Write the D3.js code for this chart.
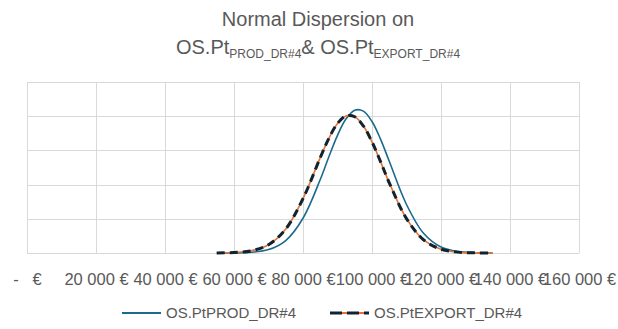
<!DOCTYPE html>
<html>
<head>
<meta charset="utf-8">
<script src="https://cdn.jsdelivr.net/npm/d3@7"></script>
<style>
  html, body { margin: 0; padding: 0; background: #fff; }
  #chart { width: 618px; height: 329px; }
  text { font-family: "Liberation Sans", Arial, sans-serif; fill: #595959; }
</style>
</head>
<body>
<div id="chart"></div>
<script>
// values (x in €, y = density)
const xValues = [55000, 60000, 65000, 70000, 75000, 80000, 85000, 87500, 90000, 92500,
  95000, 97500, 100000, 102500, 105000, 110000, 115000, 120000, 125000, 130000, 135000];
const prodValues = [0.0000000038, 0.000000032, 0.000000205, 0.00000099, 0.00000365, 0.00001017,
  0.00002148, 0.00002814, 0.00003441, 0.00003924, 0.00004177, 0.00004148, 0.00003844, 0.00003323,
  0.00002681, 0.00001418, 0.00000568, 0.00000173, 0.000000398, 0.000000069, 0.0000000092];
const exportValues = [0.000000021, 0.000000131, 0.000000639, 0.00000241, 0.00000703, 0.0000159,
  0.00002788, 0.00003354, 0.00003786, 0.00004009, 0.00003984, 0.00003714, 0.00003249, 0.00002666,
  0.00002053, 0.00001005, 0.00000381, 0.00000112, 0.000000255, 0.000000045, 0.0000000062];
const xTicks = [0, 20000, 40000, 60000, 80000, 100000, 120000, 140000, 160000];
const yTicks = [0, 0.00001, 0.00002, 0.00003, 0.00004, 0.00005];
const seriesNames = ['OS.PtPROD_DR#4', 'OS.PtEXPORT_DR#4'];

const width = 618, height = 329;
const margin = { top: 82, right: 39, bottom: 76, left: 27 };

const svg = d3.select('#chart')
  .append('svg')
  .attr('width', width)
  .attr('height', height);

const x = d3.scaleLinear().domain([0, 160000]).range([margin.left, width - margin.right]);
const y = d3.scaleLinear().domain([0, 0.00005]).range([height - margin.bottom, margin.top]);

// grid
const grid = svg.append('g').attr('stroke', '#d9d9d9').attr('stroke-width', 1);
grid.selectAll('.v').data(xTicks).join('line')
  .attr('x1', d => Math.round(x(d)) + 0.5).attr('x2', d => Math.round(x(d)) + 0.5)
  .attr('y1', y(0.00005)).attr('y2', y(0));
grid.selectAll('.h').data(yTicks).join('line')
  .attr('x1', x(0)).attr('x2', x(160000))
  .attr('y1', d => Math.round(y(d)) + 0.5).attr('y2', d => Math.round(y(d)) + 0.5);

// x axis labels
const fmt = d => d === 0 ? '-\u00a0\u00a0\u00a0€' : d3.format(',')(d).replace(/,/g, '\u00a0') + '\u00a0€';
const xAxis = d3.axisBottom(x).tickValues(xTicks).tickFormat(fmt).tickSize(0).tickPadding(0);
svg.append('g')
  .attr('transform', `translate(0,${height - margin.bottom + 27})`)
  .call(xAxis)
  .call(g => g.select('.domain').remove())
  .selectAll('text')
  .attr('font-size', 16.5)
  .attr('dy', '0.3em')
  .style('fill', '#595959')
  .style('font-family', '"Liberation Sans", Arial, sans-serif');

const line = d3.line()
  .x((d, i) => x(xValues[i]))
  .y(d => y(d))
  .curve(d3.curveCatmullRom);

// series
svg.append('path').datum(prodValues)
  .attr('d', line).attr('fill', 'none')
  .attr('stroke', '#1b6a8e').attr('stroke-width', 1.6);
svg.append('path').datum(exportValues)
  .attr('d', line).attr('fill', 'none')
  .attr('stroke', '#e97132').attr('stroke-width', 1.6);
svg.append('path').datum(exportValues)
  .attr('d', line).attr('fill', 'none')
  .attr('stroke', '#10232e').attr('stroke-width', 3)
  .attr('stroke-dasharray', '8,5');

// title
const title = svg.append('g').attr('text-anchor', 'middle');
title.append('text').attr('x', 318).attr('y', 26).attr('font-size', 20)
  .text('Normal Dispersion on');
const t2 = title.append('text').attr('x', 318).attr('y', 54).attr('font-size', 20);
t2.append('tspan').text('OS.Pt');
t2.append('tspan').attr('font-size', 12).attr('dy', 4).text('PROD_DR#4');
t2.append('tspan').attr('dy', -4).text('& OS.Pt');
t2.append('tspan').attr('font-size', 12).attr('dy', 4).text('EXPORT_DR#4');

// legend
const legend = svg.append('g').attr('transform', 'translate(0,313)');
const items = legend.selectAll('g').data(seriesNames).join('g')
  .attr('transform', (d, i) => `translate(${i === 0 ? 122 : 330},0)`);
items.append('line').attr('x1', 0).attr('x2', 39)
  .attr('stroke', (d, i) => i === 0 ? '#1b6a8e' : '#e97132')
  .attr('stroke-width', 1.8);
items.filter((d, i) => i === 1).append('line')
  .attr('x1', 0).attr('x2', 39)
  .attr('stroke', '#10232e').attr('stroke-width', 3)
  .attr('stroke-dasharray', '12,5');
items.append('text').attr('x', 44).attr('dy', '0.35em')
  .attr('font-size', 15).text(d => d);
</script>
</body>
</html>
